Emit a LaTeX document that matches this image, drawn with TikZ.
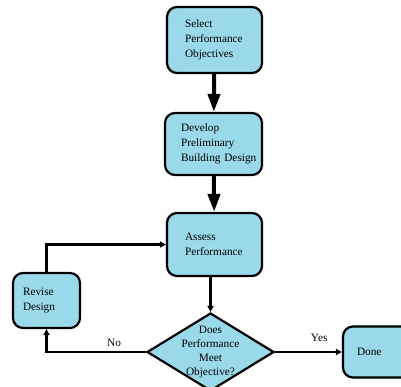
\documentclass[tikz,border=0pt]{standalone}
\usepackage{fontspec}
\setmainfont{Liberation Serif}
\usetikzlibrary{arrows.meta,shapes.geometric}
\definecolor{boxfill}{RGB}{153,217,234}

\begin{document}
\begin{tikzpicture}[x=1pt, y=-1pt,
    stepbox/.style={draw, rounded corners=10pt, line width=2.2pt, fill=boxfill, align=left, font=\fontsize{11.3}{14.8}\selectfont, inner ysep=0pt},
    decision/.style={draw, diamond, line width=2.2pt, fill=boxfill, inner sep=0pt, minimum width=127pt, minimum height=78pt},
    bigarrow/.style={-{Triangle[length=18pt,width=12pt]}, line width=4pt},
    link/.style={-{Triangle[length=6pt,width=6pt]}, line width=2.2pt},
    tag/.style={font=\fontsize{11.3}{13}\selectfont}]
    \clip (0,0) rectangle (401,387);
    \fill[white] (0,0) rectangle (401,387);

    \node[stepbox, text width=59pt, inner xsep=18pt, minimum height=66pt] (select) at (214.5,40) {Select\\Performance\\Objectives};
    \node[stepbox, text width=65pt, inner xsep=16pt, minimum height=62pt] (develop) at (213.5,144) {Develop\\Preliminary\\\mbox{Building Design}};
    \node[stepbox, text width=59pt, inner xsep=18pt, minimum height=63pt] (assess) at (214.5,244.5) {Assess\\Performance};
    \node[stepbox, text width=47pt, inner xsep=10pt, minimum height=55pt] (revise) at (46.5,300.5) {Revise\\Design};
    \node[decision, label={[align=center, font=\fontsize{11.3}{14.3}\selectfont]center:Does\\Performance\\Meet\\Objective?}] (check) at (210.5,352) {};
    \node[stepbox, text width=60pt, inner xsep=14pt, minimum height=51pt] (done) at (387,352) {Done};

    \draw[bigarrow] (select) -- (develop);
    \draw[bigarrow] (develop) -- (assess);
    \draw[link] (check.north |- assess.south) -- (check.north);
    \draw[link] (check.west) -| node[tag, above=1pt, pos=0.16] {No} (revise.south);
    \draw[link] (revise.north) |- (assess.west);
    \draw[link] (check.east) -- node[tag, above=6pt, pos=0.66] {Yes} (done.west);
\end{tikzpicture}
\end{document}
